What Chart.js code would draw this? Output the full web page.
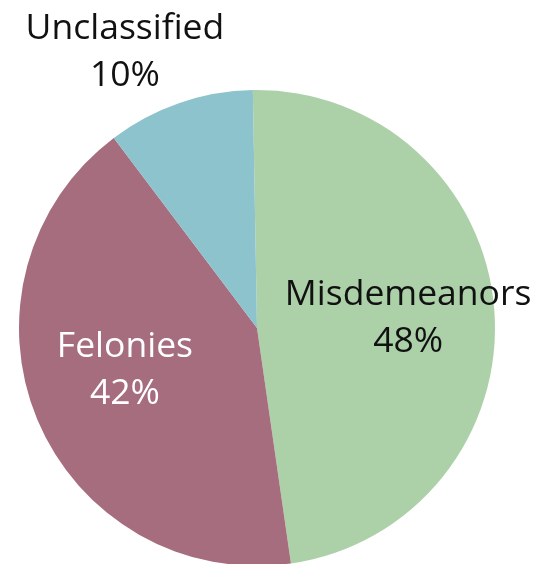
<!DOCTYPE html>
<html>
<head>
<meta charset="utf-8">
<script src="https://cdn.jsdelivr.net/npm/chart.js@4"></script>
<style>
html,body{margin:0;padding:0;background:#fff;overflow:hidden;}
#wrap{position:relative;width:558px;height:570px;}
</style>
</head>
<body>
<div id="wrap"><canvas id="c"></canvas></div>
<script>
const categories = ["Misdemeanors", "Felonies", "Unclassified"];
const values = [48, 42, 10];
const percentLabels = ["48%", "42%", "10%"];
const sliceColors = ["#acd1a9", "#a56d7e", "#8dc3cd"];
const labelColors = ["#111111", "#ffffff", "#111111"];
// label anchor offsets relative to pie centre, in units of radius
const labelOffsets = [[0.635, -0.04], [-0.555, 0.18], [-0.555, -1.16]];

const labelPlugin = {
  id: 'sliceLabels',
  afterDatasetsDraw(chart) {
    const ctx = chart.ctx;
    const meta = chart.getDatasetMeta(0);
    ctx.save();
    ctx.font = '35.5px "Open Sans", sans-serif';
    ctx.textAlign = 'center';
    ctx.textBaseline = 'middle';
    meta.data.forEach((arc, i) => {
      const r = arc.outerRadius;
      const x = arc.x + labelOffsets[i][0] * r;
      const y = arc.y + labelOffsets[i][1] * r;
      ctx.fillStyle = labelColors[i];
      ctx.fillText(categories[i], x, y - 23.5);
      ctx.fillText(percentLabels[i], x, y + 23.5);
    });
    ctx.restore();
  }
};

new Chart(document.getElementById('c'), {
  type: 'pie',
  data: {
    labels: categories,
    datasets: [{
      data: values,
      backgroundColor: sliceColors,
      borderWidth: 0
    }]
  },
  options: {
    responsive: true,
    maintainAspectRatio: false,
    animation: false,
    rotation: -1,
    layout: { padding: { left: 19, right: 63, top: 90, bottom: 4 } },
    plugins: { legend: { display: false }, tooltip: { enabled: false } }
  },
  plugins: [labelPlugin]
});
</script>
</body>
</html>
